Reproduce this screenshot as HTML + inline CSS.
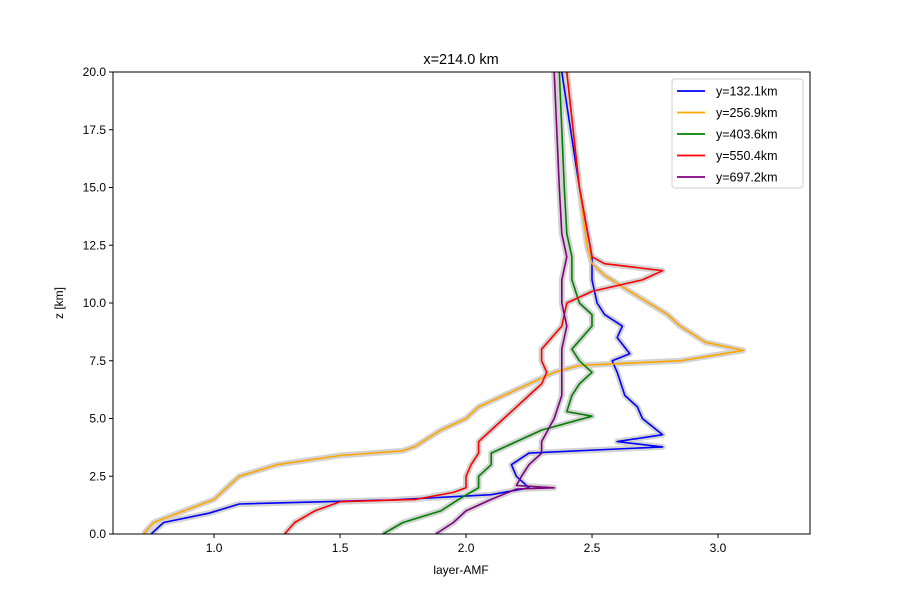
<!DOCTYPE html>
<html><head><meta charset="utf-8"><style>
body{margin:0;background:#fff;font-family:"Liberation Sans","DejaVu Sans",sans-serif}
</style></head><body>
<svg id="chart" width="900" height="600" xmlns="http://www.w3.org/2000/svg"></svg>
<script>
const seriesNames=["y=132.1km","y=256.9km","y=403.6km","y=550.4km","y=697.2km"];
const seriesColors=["blue","orange","green","red","purple"];
const blueZ=[0,0.5,0.9,1.3,1.47,1.7,2.0,2.5,3.0,3.5,3.77,4.0,4.3,5,5.5,6,7,7.5,7.8,8.5,9,9.5,10,11,12,15,20];
const blueX=[0.75,0.8,0.98,1.1,1.7,2.1,2.25,2.2,2.18,2.25,2.78,2.6,2.78,2.7,2.68,2.63,2.6,2.58,2.65,2.6,2.62,2.55,2.52,2.5,2.5,2.45,2.38];
const orangeZ=[0,0.5,1,1.5,2,2.5,3,3.4,3.6,3.8,4.5,5,5.5,6,6.5,7,7.3,7.5,7.95,8.3,9,9.5,10.5,11.2,11.7,12.5,15,20];
const orangeX=[0.72,0.76,0.88,1.0,1.05,1.1,1.25,1.5,1.75,1.8,1.9,2.0,2.05,2.15,2.25,2.35,2.45,2.85,3.1,2.95,2.85,2.8,2.65,2.55,2.5,2.48,2.45,2.4];
const greenZ=[0,0.5,1,1.5,2,2.5,3,3.5,4,4.5,5.1,5.3,6,6.5,7,7.5,8,9,9.5,10,11,12,13,15,20];
const greenX=[1.67,1.75,1.9,1.97,2.05,2.05,2.1,2.1,2.2,2.3,2.5,2.4,2.42,2.45,2.5,2.45,2.42,2.5,2.5,2.45,2.42,2.42,2.4,2.39,2.37];
const redZ=[0,0.5,1,1.4,1.5,1.8,2,2.5,3,3.5,4,5,6,6.5,7,7.5,8,9,10,10.5,11,11.4,11.7,12,15,20];
const redX=[1.28,1.32,1.4,1.5,1.8,1.95,2.0,2.0,2.02,2.05,2.05,2.15,2.25,2.3,2.32,2.3,2.3,2.38,2.4,2.5,2.7,2.78,2.55,2.5,2.45,2.4];
const purpleZ=[0,0.5,1,1.5,1.95,2.0,2.1,2.5,3,3.5,4,5,6,7,8,9,10,11,12,13,15,20];
const purpleX=[1.88,1.95,2.0,2.1,2.2,2.35,2.2,2.22,2.25,2.3,2.3,2.35,2.38,2.38,2.38,2.4,2.38,2.38,2.4,2.38,2.37,2.35];
const xTicks=[1.0,1.5,2.0,2.5,3.0];
const yTicks=[0,2.5,5,7.5,10,12.5,15,17.5,20];
const allZ=[blueZ,orangeZ,greenZ,redZ,purpleZ], allX=[blueX,orangeX,greenX,redX,purpleX];

const L=113,R=810,T=72,B=534,xmin=0.599,xmax=3.365,ymin=0,ymax=20;
const sx=v=>L+(v-xmin)/(xmax-xmin)*(R-L);
const sy=v=>B-(v-ymin)/(ymax-ymin)*(B-T);
const svg=document.getElementById('chart');
const NS="http://www.w3.org/2000/svg";
function mk(tag,attrs,parent){const e=document.createElementNS(NS,tag);for(const k in attrs)e.setAttribute(k,attrs[k]);(parent||svg).appendChild(e);return e;}

allZ.forEach((zs,i)=>{
  const d=zs.map((z,j)=>(j?'L':'M')+sx(allX[i][j]).toFixed(1)+','+sy(z).toFixed(1)).join('');
  const p=mk('path',{d:d,fill:'none',stroke:'#d3d3d3','stroke-width':6,'stroke-linejoin':'round'});
  
  
});
allZ.forEach((zs,i)=>{
  const d=zs.map((z,j)=>(j?'L':'M')+sx(allX[i][j]).toFixed(1)+','+sy(z).toFixed(1)).join('');
  const p=mk('path',{d:d,fill:'none',stroke:seriesColors[i],'stroke-width':1.6,'stroke-linejoin':'round'});
  
  
});
mk('rect',{x:0,y:0,width:900,height:T,fill:'#fff'});
mk('rect',{x:0,y:B,width:900,height:600-B,fill:'#fff'});
mk('rect',{x:0,y:0,width:L,height:600,fill:'#fff'});
mk('rect',{x:R,y:0,width:90,height:600,fill:'#fff'});
const frame=mk('rect',{x:L,y:T,width:R-L,height:B-T,fill:'none',stroke:'#000','stroke-width':1});



xTicks.forEach(t=>{
  mk('line',{x1:sx(t),x2:sx(t),y1:B,y2:B+4,stroke:'#000'});
  const tx=mk('text',{x:sx(t),y:B+18,'text-anchor':'middle','font-size':12});
  tx.textContent=t.toFixed(1);
  
  
});
yTicks.forEach(t=>{
  mk('line',{x1:L-4,x2:L,y1:sy(t),y2:sy(t),stroke:'#000'});
  const tx=mk('text',{x:L-7,y:sy(t)+4,'text-anchor':'end','font-size':12});
  tx.textContent=t.toFixed(1);
  
  
});
let t=mk('text',{x:461,y:574,'text-anchor':'middle','font-size':12});t.textContent='layer-AMF';


t=mk('text',{x:63,y:303,'text-anchor':'middle','font-size':12,transform:'rotate(-90 63 303)'});t.textContent='z [km]';


t=mk('text',{x:461,y:64,'text-anchor':'middle','font-size':14.5});t.textContent='x=214.0 km';



const lg=mk('g',{});


mk('rect',{x:672,y:79,width:131,height:109,rx:3,fill:'#fff',stroke:'#ccc'},lg);
seriesNames.forEach((n,i)=>{
  const y=91+i*21.5;
  const g=mk('g',{},lg);
  
  
  mk('line',{x1:677,x2:705,y1:y,y2:y,stroke:seriesColors[i],'stroke-width':1.8},g);
  const tx=mk('text',{x:716,y:y+4.5,'font-size':12.5},g);tx.textContent=n;
});
</script>
</body></html>
